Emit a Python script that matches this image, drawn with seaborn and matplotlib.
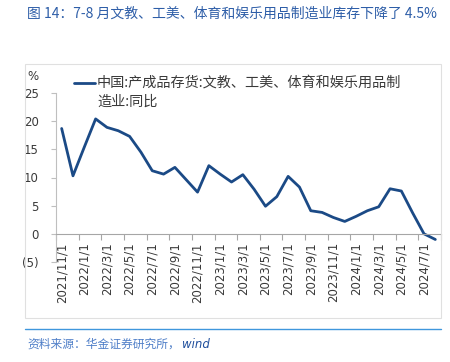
import numpy as np
import pandas as pd
import matplotlib
matplotlib.use("Agg")
import matplotlib.pyplot as plt
import seaborn as sns
from matplotlib.lines import Line2D
from matplotlib.patches import Rectangle

# ---------------- data ----------------
dates = ["2021/11/1", "2021/12/1",
         "2022/1/1", "2022/2/1", "2022/3/1", "2022/4/1", "2022/5/1", "2022/6/1",
         "2022/7/1", "2022/8/1", "2022/9/1", "2022/10/1", "2022/11/1", "2022/12/1",
         "2023/1/1", "2023/2/1", "2023/3/1", "2023/4/1", "2023/5/1", "2023/6/1",
         "2023/7/1", "2023/8/1", "2023/9/1", "2023/10/1", "2023/11/1", "2023/12/1",
         "2024/1/1", "2024/2/1", "2024/3/1", "2024/4/1", "2024/5/1", "2024/6/1",
         "2024/7/1", "2024/8/1"]
values = [18.7, 10.3, 15.4, 20.4, 18.9, 18.3, 17.3, 14.5, 11.2, 10.6,
          11.8, 9.6, 7.4, 12.1, 10.6, 9.2, 10.5, 7.9, 4.9, 6.6,
          10.2, 8.3, 4.1, 3.8, 2.9, 2.2, 3.1, 4.1, 4.8, 8.0,
          7.6, 3.7, 0.0, -1.0]
x_tick_labels = dates[::2]
y_ticks = [-5, 0, 5, 10, 15, 20, 25]
y_tick_labels = ["(5)", "0", "5", "10", "15", "20", "25"]
title_text = "图 14：7-8 月文教、工美、体育和娱乐用品制造业库存下降了 4.5%"
series_line1 = "中国:产成品存货:文教、工美、体育和娱乐用品制"
series_line2 = "造业:同比"
source_text = "资料来源：华金证券研究所，"
source_tail = "wind"
unit_text = "%"

# ---------------- style ----------------
sns.set_theme(style="white")
plt.rcParams["font.family"] = ["DejaVu Sans", "Noto Sans CJK SC"]
CJK = ["Noto Sans CJK SC", "DejaVu Sans"]

LINE_C = "#1b4a86"
TEXT_C = "#3a3a3a"
AXIS_C = "#bfbfbf"

W, H = 450, 362
def fx(px):
    return px / W
def fy(py):
    return 1 - py / H

fig = plt.figure(figsize=(4.5, 3.62), dpi=100)
ax = fig.add_axes([fx(56), fy(262), (441 - 56) / W, (262 - 93) / H])

df = pd.DataFrame({"idx": np.arange(len(values)), "value": values})
sns.lineplot(data=df, x="idx", y="value", ax=ax, color=LINE_C, linewidth=2.0)

ax.set_xlim(-0.5, len(values) - 0.5)
ax.set_ylim(-5, 25)
ax.set_xlabel("")
ax.set_ylabel("")

for s in ["top", "right"]:
    ax.spines[s].set_visible(False)
ax.spines["left"].set_color(AXIS_C)
ax.spines["left"].set_linewidth(0.8)
ax.spines["bottom"].set_color("#a6a6a6")
ax.spines["bottom"].set_linewidth(0.8)
ax.spines["bottom"].set_position(("data", 0))

# x: tick marks at category boundaries every 2, labels centred on categories
ax.set_xticks(np.arange(-0.5, len(values), 2))
ax.set_xticklabels([])
ax.set_xticks(np.arange(0, len(values), 2), minor=True)
ax.set_xticklabels(x_tick_labels, minor=True, rotation=90)
ax.tick_params(axis="x", which="major", bottom=True, length=4, direction="out",
               color="#a6a6a6", width=0.8)
ax.tick_params(axis="x", which="minor", bottom=True, length=0, pad=6,
               labelsize=8.5, labelcolor=TEXT_C)

ax.set_yticks(y_ticks)
ax.set_yticklabels(y_tick_labels)
ax.tick_params(axis="y", which="major", left=True, length=3.5, direction="out",
               color=AXIS_C, width=0.8, pad=9, labelsize=8.5, labelcolor=TEXT_C)
ax.grid(False)

# legend (handle aligned with first line of the wrapped label)
fig.add_artist(Line2D([fx(74), fx(95)], [fy(83), fy(83)], transform=fig.transFigure,
                      color=LINE_C, linewidth=2.0))
fig.text(fx(97), fy(83), series_line1, ha="left", va="center", fontsize=10.2,
         color=TEXT_C, family=CJK)
fig.text(fx(97), fy(102), series_line2, ha="left", va="center", fontsize=10.2,
         color=TEXT_C, family=CJK)

# unit
fig.text(fx(33), fy(76), unit_text, ha="center", va="center", fontsize=8.5,
         color=TEXT_C)

# title
fig.text(fx(27), fy(14), title_text, ha="left", va="center", fontsize=10.0,
         color="#2e5ea8", family=CJK)

# chart frame
fig.add_artist(Rectangle((fx(25), fy(318)), (441 - 25) / W, (318 - 64) / H,
                         transform=fig.transFigure, fill=False,
                         edgecolor="#e0e0e0", linewidth=0.8))

# separator and source
fig.add_artist(Line2D([fx(25), fx(441)], [fy(329), fy(329)], transform=fig.transFigure,
                      color="#3f97dd", linewidth=1.0))
fig.text(fx(27), fy(344), source_text, ha="left", va="center", fontsize=8.5,
         color="#4f7fc8", family=CJK, style="italic")
fig.text(fx(182), fy(344), source_tail, ha="left", va="center", fontsize=8.5,
         color="#1f4e9c", style="italic")

fig.savefig("out.png", dpi=100)
